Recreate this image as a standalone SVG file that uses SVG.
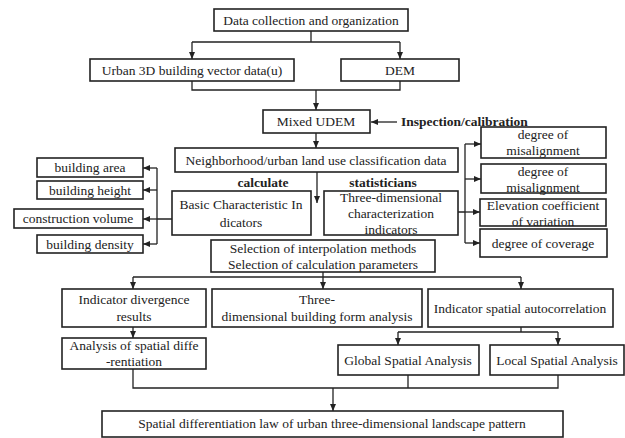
<svg xmlns="http://www.w3.org/2000/svg" width="625" height="438" viewBox="0 0 625 438">
<defs>
<style>
.b{fill:#fff;stroke:#222;stroke-width:1.6}
.t{font-family:"Liberation Serif","Times New Roman",serif;font-size:13.5px;fill:#222;text-anchor:middle}
.bd{font-weight:bold;}
.c{fill:none;stroke:#222;stroke-width:1.3}
</style>
<marker id="a" markerWidth="8" markerHeight="8" refX="7" refY="4" orient="auto" markerUnits="userSpaceOnUse">
<path d="M0,1 L7,4 L0,7 Z" fill="#222"/>
</marker>
</defs>
<rect width="625" height="438" fill="#fff"/>
<g id="connectors">
<path class="c" d="M311,31 V42 M192,42 H400" />
<path class="c" d="M192,42 V59" marker-end="url(#a)"/>
<path class="c" d="M400,42 V59" marker-end="url(#a)"/>
<path class="c" d="M192,81 V90 H400 V81"/>
<path class="c" d="M316,90 V110" marker-end="url(#a)"/>
<path class="c" d="M397,122 H371" marker-end="url(#a)"/>
<path class="c" d="M316,133 V148" marker-end="url(#a)"/>
<path class="c" d="M317,172 V203" marker-end="url(#a)"/>
<path class="c" d="M465,144 V243 M458,212 H465"/>
<path class="c" d="M465,144 H481" marker-end="url(#a)"/>
<path class="c" d="M465,179 H481" marker-end="url(#a)"/>
<path class="c" d="M465,212 H480" marker-end="url(#a)"/>
<path class="c" d="M465,243 H480" marker-end="url(#a)"/>
<path class="c" d="M172,219 H157 M157,168 V244"/>
<path class="c" d="M157,168 H143" marker-end="url(#a)"/>
<path class="c" d="M157,190 H143" marker-end="url(#a)"/>
<path class="c" d="M157,219 H143" marker-end="url(#a)"/>
<path class="c" d="M157,244 H143" marker-end="url(#a)"/>
<path class="c" d="M133,277 H521"/>
<path class="c" d="M323,272 V289" marker-end="url(#a)"/>
<path class="c" d="M133,277 V289" marker-end="url(#a)"/>
<path class="c" d="M521,277 V289" marker-end="url(#a)"/>
<path class="c" d="M133,327 V338" marker-end="url(#a)"/>
<path class="c" d="M521,327 V332 M398,332 H558"/>
<path class="c" d="M398,332 V345" marker-end="url(#a)"/>
<path class="c" d="M558,332 V345" marker-end="url(#a)"/>
<path class="c" d="M133,369 V388 H558 V375 M408,375 V388"/>
<path class="c" d="M333,388 V411" marker-end="url(#a)"/>
</g>
<g id="n-data"><rect class="b" x="214" y="9" width="194" height="22"/><text class="t" x="311" y="25">Data collection and organization</text></g>
<g id="n-urban"><rect class="b" x="90" y="59" width="204" height="22"/><text class="t" x="192" y="75">Urban 3D building vector data(u)</text></g>
<g id="n-dem"><rect class="b" x="341" y="59" width="118" height="22"/><text class="t" x="400" y="75">DEM</text></g>
<g id="n-udem"><rect class="b" x="263" y="110" width="107" height="23"/><text class="t" x="316" y="126">Mixed UDEM</text></g>
<g id="l-insp"><text class="t bd" x="401" y="126" style="text-anchor:start">Inspection/calibration</text></g>
<g id="n-neigh"><rect class="b" x="175" y="148" width="283" height="24"/><text class="t" x="316" y="165">Neighborhood/urban land use classification data</text></g>
<g id="l-calc"><text class="t bd" x="263" y="187">calculate</text></g>
<g id="l-stat"><text class="t bd" x="383" y="187">statisticians</text></g>
<g id="n-basic"><rect class="b" x="172" y="191" width="139" height="44"/><text class="t" x="241" y="209">Basic Characteristic In</text><text class="t" x="241" y="227">dicators</text></g>
<g id="n-three"><rect class="b" x="324" y="191" width="134" height="44"/><text class="t" x="391" y="202">Three-dimensional</text><text class="t" x="391" y="218">characterization</text><text class="t" x="391" y="234">indicators</text></g>
<g id="n-area"><rect class="b" x="37" y="158" width="106" height="19"/><text class="t" x="90" y="172">building area</text></g>
<g id="n-height"><rect class="b" x="37" y="181" width="106" height="18"/><text class="t" x="90" y="195">building height</text></g>
<g id="n-vol"><rect class="b" x="14" y="209" width="129" height="19"/><text class="t" x="78" y="223">construction volume</text></g>
<g id="n-dens"><rect class="b" x="37" y="235" width="106" height="18"/><text class="t" x="90" y="249">building density</text></g>
<g id="n-mis1"><rect class="b" x="481" y="127" width="125" height="31"/><text class="t" x="543" y="139">degree of</text><text class="t" x="543" y="155">misalignment</text></g>
<g id="n-mis2"><rect class="b" x="481" y="164" width="125" height="29"/><text class="t" x="543" y="176">degree of</text><text class="t" x="543" y="192">misalignment</text></g>
<g id="n-elev"><rect class="b" x="480" y="199" width="126" height="27"/><text class="t" x="543" y="210">Elevation coefficient</text><text class="t" x="543" y="226">of  variation</text></g>
<g id="n-cov"><rect class="b" x="480" y="229" width="127" height="28"/><text class="t" x="543" y="248">degree of coverage</text></g>
<g id="n-sel"><rect class="b" x="211" y="240" width="224" height="32"/><text class="t" x="323" y="253">Selection of interpolation methods</text><text class="t" x="323" y="269">Selection of calculation parameters</text></g>
<g id="n-div"><rect class="b" x="62" y="289" width="144" height="38"/><text class="t" x="134" y="304">Indicator divergence</text><text class="t" x="134" y="321">results</text></g>
<g id="n-form"><rect class="b" x="212" y="289" width="210" height="38"/><text class="t" x="317" y="304">Three-</text><text class="t" x="317" y="321">dimensional building form analysis</text></g>
<g id="n-auto"><rect class="b" x="428" y="289" width="185" height="38"/><text class="t" x="520" y="313">Indicator spatial autocorrelation</text></g>
<g id="n-anal"><rect class="b" x="62" y="338" width="144" height="31"/><text class="t" x="134" y="350">Analysis of spatial diffe</text><text class="t" x="134" y="366">-rentiation</text></g>
<g id="n-glob"><rect class="b" x="338" y="345" width="141" height="30"/><text class="t" x="408" y="365">Global Spatial Analysis</text></g>
<g id="n-loc"><rect class="b" x="490" y="345" width="134" height="30"/><text class="t" x="557" y="365">Local Spatial Analysis</text></g>
<g id="n-final"><rect class="b" x="102" y="411" width="461" height="26"/><text class="t" x="332" y="428">Spatial differentiation law of urban three-dimensional landscape pattern</text></g>
</svg>
